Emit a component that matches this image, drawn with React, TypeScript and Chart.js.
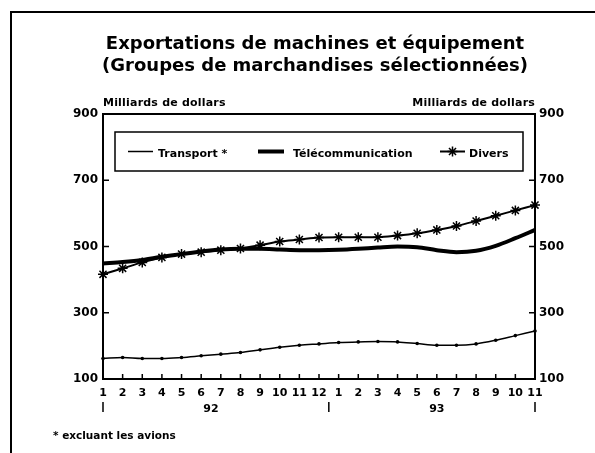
import React, { useEffect, useRef } from "react";
import { Chart, registerables } from "chart.js";

Chart.register(...registerables);

// ---- Data ----
const months = ["1", "2", "3", "4", "5", "6", "7", "8", "9", "10", "11", "12", "1", "2", "3", "4", "5", "6", "7", "8", "9", "10", "11"];
const years = ["92", "93"];
const yearSpans = [[0, 11], [12, 22]];
const transport = [162, 165, 162, 162, 165, 170, 175, 180, 188, 196, 202, 206, 210, 212, 213, 212, 207, 202, 202, 206, 217, 231, 245];
const telecom = [449, 453, 459, 469, 477, 485, 491, 493, 493, 491, 489, 489, 490, 493, 497, 500, 498, 489, 483, 487, 502, 525, 550];
const divers = [416, 434, 452, 467, 477, 483, 489, 494, 504, 515, 521, 527, 528, 528, 528, 533, 540, 550, 562, 577, 593, 609, 625];
const yMin = 100;
const yMax = 900;
const yStep = 200;
const titleLines = ["Exportations de machines et équipement", "(Groupes de marchandises sélectionnées)"];
const unitLabel = "Milliards de dollars";
const legendLabels = ["Transport *", "Télécommunication", "Divers"];
const footnote = "* excluant les avions";

const FONT = '"DejaVu Sans", "Liberation Sans", sans-serif';
const W = 595;
const H = 453;

function drawStar(ctx: CanvasRenderingContext2D, x: number, y: number, r: number) {
  ctx.beginPath();
  for (let k = 0; k < 4; k++) {
    const a = (k * Math.PI) / 4;
    ctx.moveTo(x + Math.cos(a) * r, y + Math.sin(a) * r);
    ctx.lineTo(x - Math.cos(a) * r, y - Math.sin(a) * r);
  }
  ctx.stroke();
}

const decorPlugin = {
  id: "decor",
  beforeDraw(chart: any) {
    const ctx = chart.ctx as CanvasRenderingContext2D;
    ctx.save();
    ctx.fillStyle = "#fff";
    ctx.fillRect(0, 0, chart.width, chart.height);
    ctx.restore();
  },
  afterDraw(chart: any) {
    const ctx = chart.ctx as CanvasRenderingContext2D;
    const area = chart.chartArea;
    const xs = chart.scales.x;
    const ys = chart.scales.y;
    ctx.save();
    ctx.strokeStyle = "#000";
    ctx.fillStyle = "#000";
    ctx.lineCap = "butt";

    // outer frame (top + left)
    ctx.lineWidth = 2;
    ctx.beginPath();
    ctx.moveTo(11, H);
    ctx.lineTo(11, 12);
    ctx.lineTo(W, 12);
    ctx.stroke();

    // title
    ctx.font = `bold 18px ${FONT}`;
    ctx.textAlign = "center";
    ctx.textBaseline = "alphabetic";
    ctx.fillText(titleLines[0], 315, 48.5);
    ctx.fillText(titleLines[1], 315, 71);

    // unit labels
    ctx.font = `bold 11px ${FONT}`;
    (ctx as any).letterSpacing = "0.2px";
    ctx.textAlign = "left";
    ctx.fillText(unitLabel, area.left, 105.5);
    ctx.textAlign = "right";
    ctx.fillText(unitLabel, area.right, 105.5);
    (ctx as any).letterSpacing = "0px";

    // plot frame
    ctx.lineWidth = 2;
    ctx.strokeRect(area.left, area.top, area.right - area.left, area.bottom - area.top);

    // inward ticks on y axes
    ctx.lineWidth = 1.5;
    ctx.beginPath();
    for (let v = yMin; v <= yMax; v += yStep) {
      const py = ys.getPixelForValue(v);
      ctx.moveTo(area.left, py);
      ctx.lineTo(area.left + 6, py);
      ctx.moveTo(area.right, py);
      ctx.lineTo(area.right - 6, py);
    }
    // inward ticks on x axis
    for (let i = 0; i < months.length; i++) {
      const px = xs.getPixelForValue(i);
      ctx.moveTo(px, area.bottom);
      ctx.lineTo(px, area.bottom - 5);
    }
    ctx.stroke();

    // year separators and labels
    const step = xs.getPixelForValue(1) - xs.getPixelForValue(0);
    const sepX = [
      xs.getPixelForValue(0),
      xs.getPixelForValue(yearSpans[0][1]) + step / 2,
      xs.getPixelForValue(months.length - 1),
    ];
    ctx.lineWidth = 1.5;
    ctx.beginPath();
    sepX.forEach((sx) => {
      ctx.moveTo(sx, 402);
      ctx.lineTo(sx, 412);
    });
    ctx.stroke();
    ctx.font = `bold 11px ${FONT}`;
    ctx.textAlign = "center";
    years.forEach((yr, k) => {
      const cx = (xs.getPixelForValue(yearSpans[k][0]) + xs.getPixelForValue(yearSpans[k][1])) / 2;
      ctx.fillText(yr, cx, 411.5);
    });

    // legend box
    ctx.lineWidth = 1.5;
    ctx.strokeRect(115, 132, 408, 39);
    const ly = 151.5;
    const tb = 156.5;
    ctx.font = `bold 11px ${FONT}`;
    ctx.textAlign = "left";
    // Transport
    ctx.lineWidth = 1.5;
    ctx.beginPath();
    ctx.moveTo(128, ly);
    ctx.lineTo(153, ly);
    ctx.stroke();
    ctx.fillText(legendLabels[0], 158, tb);
    // Telecom
    ctx.lineWidth = 4;
    ctx.beginPath();
    ctx.moveTo(258, ly);
    ctx.lineTo(284, ly);
    ctx.stroke();
    ctx.fillText(legendLabels[1], 293, tb);
    // Divers
    ctx.lineWidth = 2;
    ctx.beginPath();
    ctx.moveTo(440, ly);
    ctx.lineTo(465, ly);
    ctx.stroke();
    ctx.lineWidth = 1.5;
    drawStar(ctx, 452.5, ly, 5);
    ctx.fillText(legendLabels[2], 469, tb);

    // footnote
    ctx.font = `bold 10.5px ${FONT}`;
    ctx.textAlign = "left";
    ctx.fillText(footnote, 53, 439);

    ctx.restore();
  },
};

export default function App() {
  const ref = useRef<HTMLCanvasElement | null>(null);

  useEffect(() => {
    if (!ref.current) return;
    const tickFont = { family: FONT, size: 12, weight: "bold" as const };
    const chart = new Chart(ref.current, {
      type: "line",
      data: {
        labels: months,
        datasets: [
          {
            label: legendLabels[0],
            data: transport,
            borderColor: "#000",
            backgroundColor: "#000",
            borderWidth: 1.5,
            pointRadius: 1.8,
            pointBorderWidth: 0,
            pointBackgroundColor: "#000",
            cubicInterpolationMode: "monotone",
            yAxisID: "y",
          },
          {
            label: legendLabels[1],
            data: telecom,
            borderColor: "#000",
            backgroundColor: "#000",
            borderWidth: 4,
            pointRadius: 0,
            cubicInterpolationMode: "monotone",
            yAxisID: "y",
          },
          {
            label: legendLabels[2],
            data: divers,
            borderColor: "#000",
            backgroundColor: "#000",
            borderWidth: 2,
            pointStyle: "star",
            pointRadius: 5,
            pointBorderWidth: 1.5,
            pointBorderColor: "#000",
            cubicInterpolationMode: "monotone",
            yAxisID: "y",
          },
        ],
      },
      options: {
        animation: false,
        responsive: false,
        devicePixelRatio: 1,
        events: [],
        layout: { padding: { left: 0, right: 20, top: 114, bottom: 44 } },
        plugins: {
          legend: { display: false },
          title: { display: false },
          tooltip: { enabled: false },
        },
        scales: {
          x: {
            type: "category",
            offset: false,
            grid: { display: false, drawTicks: false },
            border: { display: false },
            ticks: {
              autoSkip: false,
              maxRotation: 0,
              minRotation: 0,
              color: "#000",
              padding: 8,
              font: { family: FONT, size: 11, weight: "bold" },
            },
            afterFit: (s: any) => {
              s.height = 30;
            },
          },
          y: {
            type: "linear",
            position: "left",
            min: yMin,
            max: yMax,
            grid: { display: false, drawTicks: false },
            border: { display: false },
            ticks: { stepSize: yStep, color: "#000", padding: 5, font: tickFont },
            afterFit: (s: any) => {
              s.width = 103;
            },
          },
          y2: {
            type: "linear",
            position: "right",
            min: yMin,
            max: yMax,
            grid: { display: false, drawTicks: false },
            border: { display: false },
            ticks: { stepSize: yStep, color: "#000", padding: 4, font: tickFont },
            afterFit: (s: any) => {
              s.width = 40;
            },
          },
        },
      },
      plugins: [decorPlugin],
    });
    return () => chart.destroy();
  }, []);

  return (
    <div style={{ position: "absolute", left: 0, top: 0, width: W, height: H, background: "#fff" }}>
      <canvas ref={ref} width={W} height={H} style={{ display: "block", width: W, height: H }} />
    </div>
  );
}
